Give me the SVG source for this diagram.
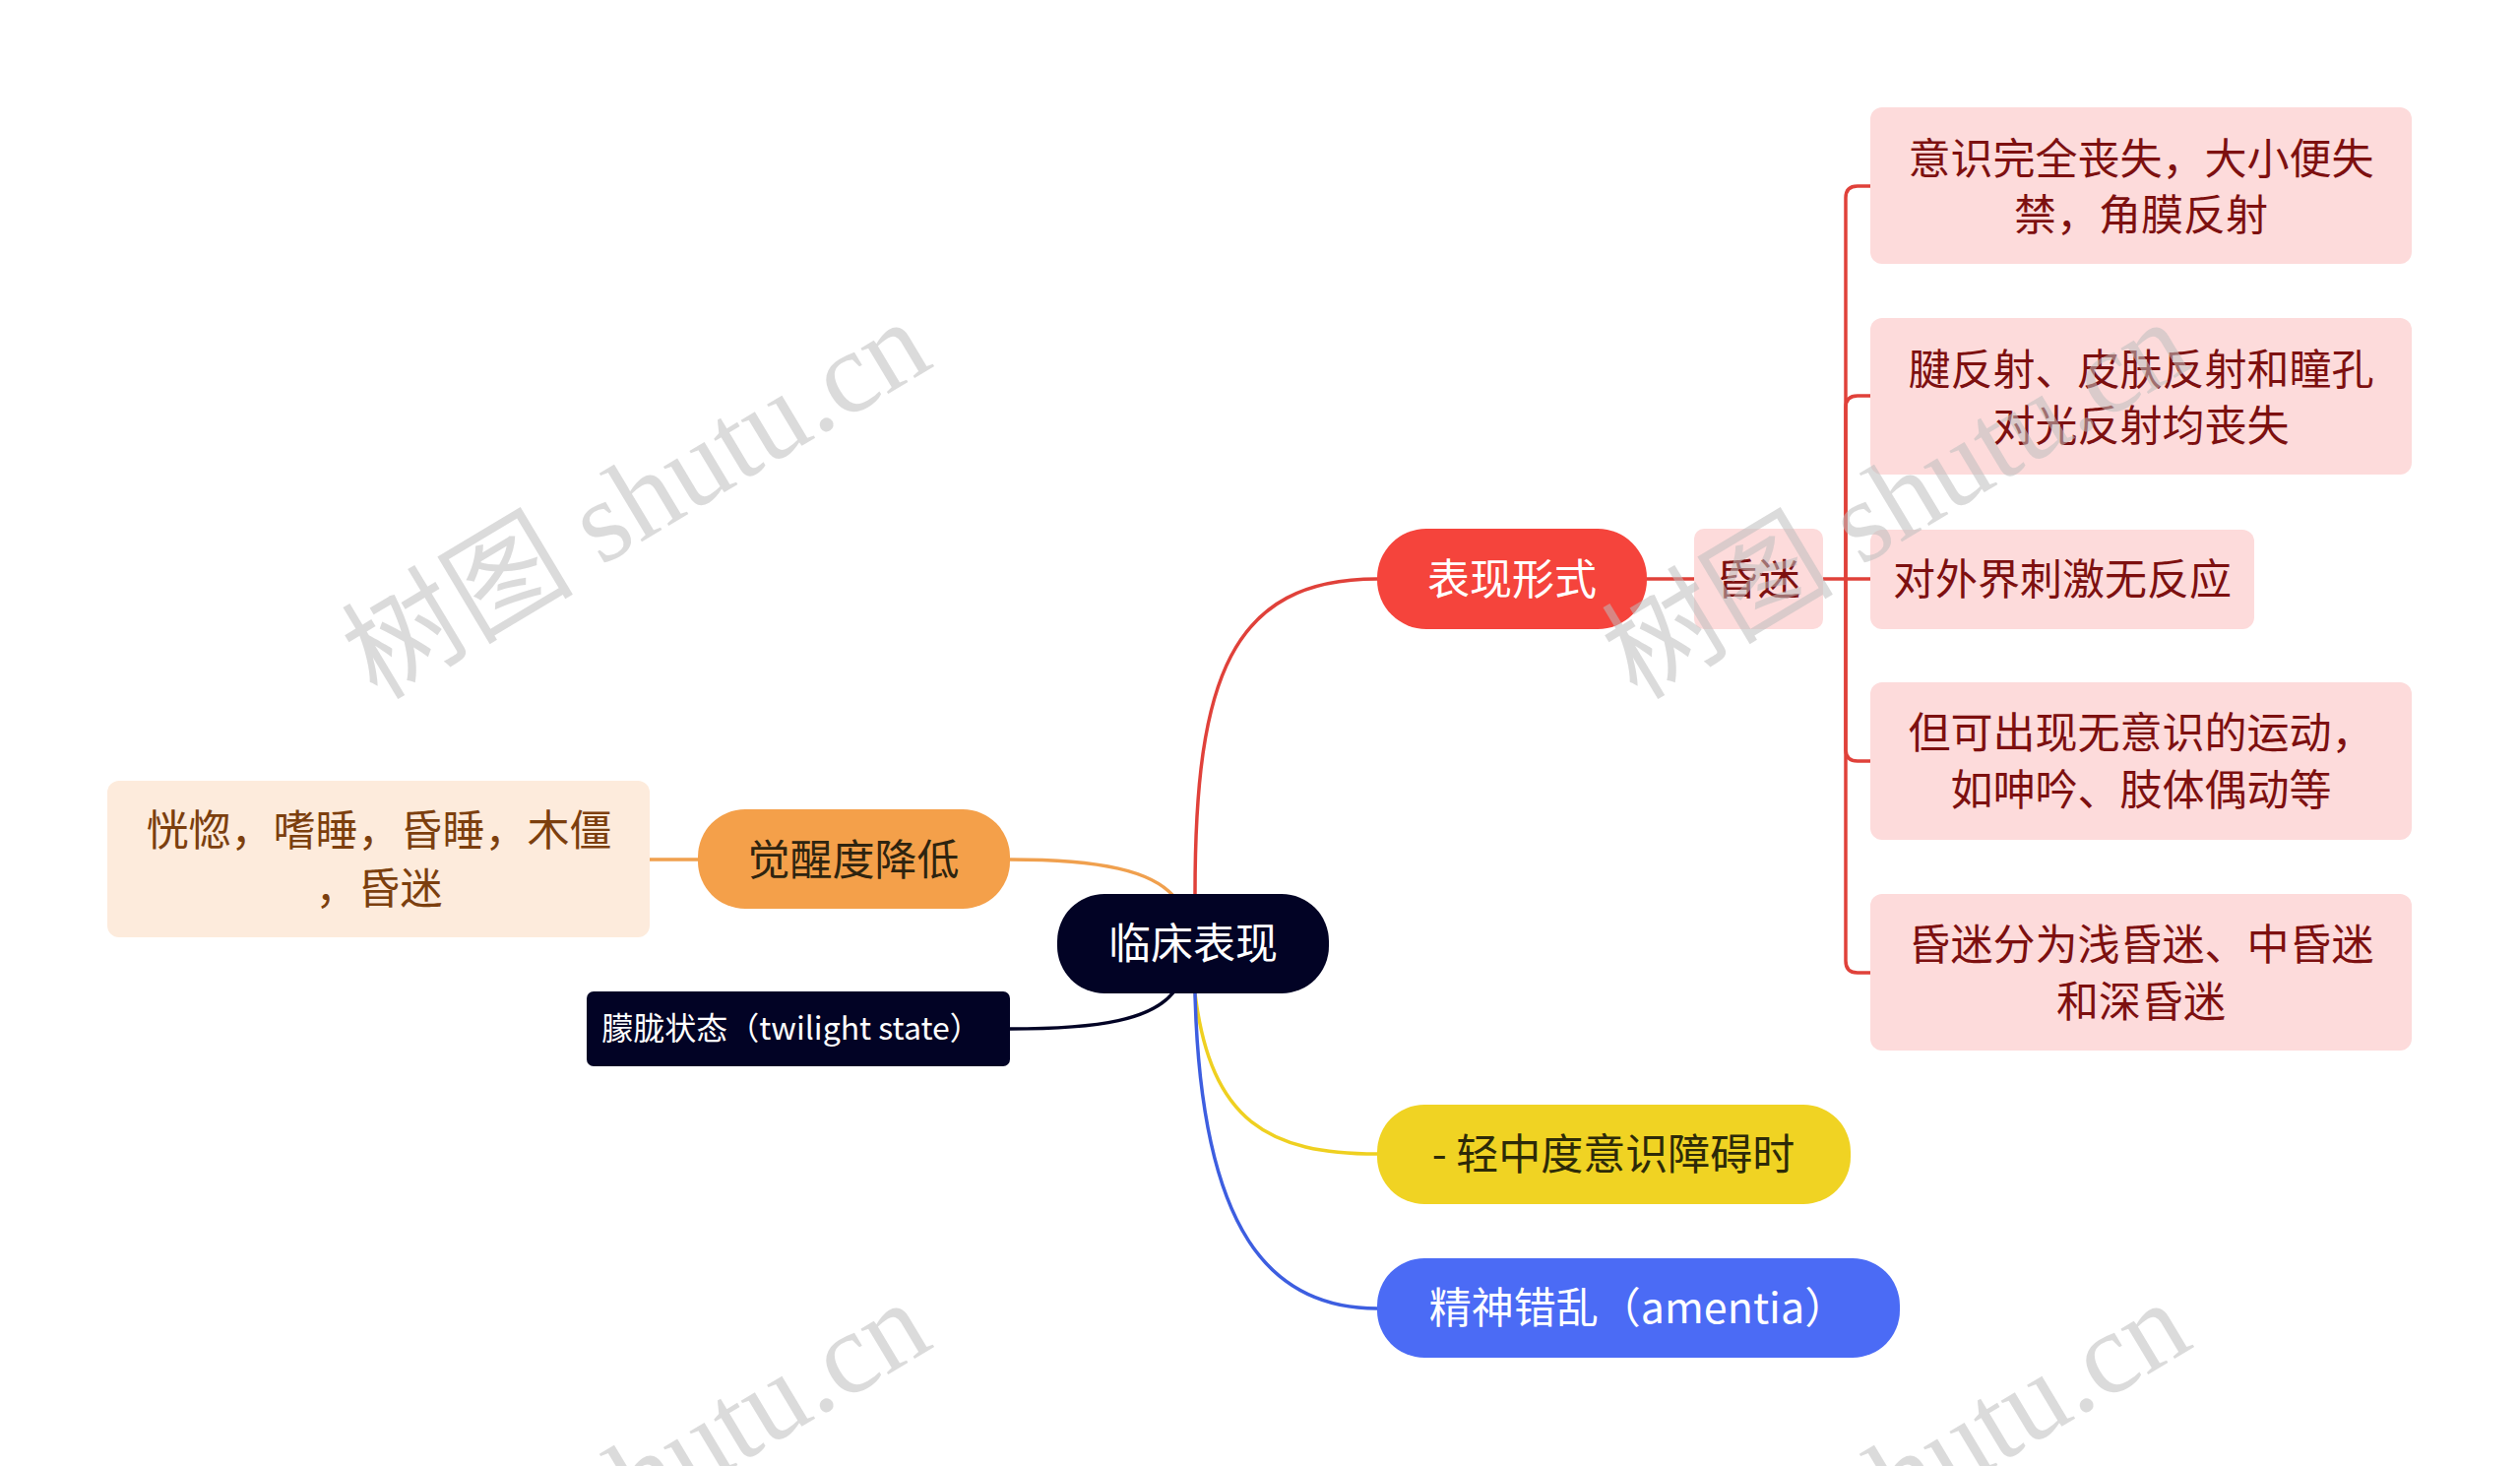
<svg xmlns="http://www.w3.org/2000/svg" width="2560" height="1489" viewBox="0 0 2560 1489">
<style>
text{font-family:"Noto Sans CJK SC","Noto Sans",sans-serif;text-anchor:middle}
.t43{font-size:43px}
.w{fill:#ffffff}
.pk{fill:#fddbdb}
.pkt{fill:#7d1010}
.br{fill:#7c3f0e}
.conn{fill:none;stroke-width:3.5;stroke-linecap:round}
.wm{font-family:"Liberation Serif","Noto Sans CJK SC",serif;font-size:118px;fill:#bdbdbd;fill-opacity:0.55;text-anchor:start}
</style>
<rect width="2560" height="1489" fill="#ffffff"/>
<g id="connectors">
<path class="conn" stroke="#e0413a" d="M1214,908 C1214,690 1250,588 1399,588"/>
<path class="conn" stroke="#f0a04e" d="M1026,873 C1120,873 1170,885 1192,910"/>
<path class="conn" stroke="#020325" d="M1026,1045 C1120,1045 1170,1035 1192,1008"/>
<path class="conn" stroke="#efd020" d="M1214,1009 C1230,1140 1290,1172 1399,1172"/>
<path class="conn" stroke="#3d5ee0" d="M1214,1009 C1220,1250 1290,1329 1399,1329"/>
<path class="conn" stroke="#f0a04e" d="M660,873 H709"/>
<path class="conn" stroke="#e0413a" d="M1673,588 H1721"/>
<path class="conn" stroke="#e0413a" d="M1852,588 H1900"/>
<path class="conn" stroke="#e0413a" d="M1875,588 V201 Q1875,189 1887,189 H1900"/>
<path class="conn" stroke="#e0413a" d="M1875,588 V414 Q1875,402 1887,402 H1900"/>
<path class="conn" stroke="#e0413a" d="M1875,588 V761 Q1875,773 1887,773 H1900"/>
<path class="conn" stroke="#e0413a" d="M1875,588 V976 Q1875,988 1887,988 H1900"/>
</g>
<g id="root">
<rect x="1074" y="908" width="276" height="101" rx="48" fill="#020325"/>
<text class="t43 w" x="1212" y="974">临床表现</text>
</g>
<g id="biaoxian">
<rect x="1399" y="537" width="274" height="102" rx="50" fill="#f5443c"/>
<text class="t43 w" x="1536" y="604">表现形式</text>
</g>
<g id="hunmi">
<rect x="1721" y="537" width="131" height="102" rx="10" class="pk"/>
<text class="t43 pkt" x="1786" y="604">昏迷</text>
</g>
<g id="c1">
<rect x="1900" y="109" width="550" height="159" rx="12" class="pk"/>
<text class="t43 pkt" x="2175" y="177">意识完全丧失，大小便失</text>
<text class="t43 pkt" x="2175" y="234">禁，角膜反射</text>
</g>
<g id="c2">
<rect x="1900" y="323" width="550" height="159" rx="12" class="pk"/>
<text class="t43 pkt" x="2175" y="391">腱反射、皮肤反射和瞳孔</text>
<text class="t43 pkt" x="2175" y="448">对光反射均丧失</text>
</g>
<g id="c3">
<rect x="1900" y="538" width="390" height="101" rx="12" class="pk"/>
<text class="t43 pkt" x="2095" y="604">对外界刺激无反应</text>
</g>
<g id="c4">
<rect x="1900" y="693" width="550" height="160" rx="12" class="pk"/>
<text class="t43 pkt" x="2175" y="760">但可出现无意识的运动，</text>
<text class="t43 pkt" x="2175" y="818">如呻吟、肢体偶动等</text>
</g>
<g id="c5">
<rect x="1900" y="908" width="550" height="159" rx="12" class="pk"/>
<text class="t43 pkt" x="2175" y="975">昏迷分为浅昏迷、中昏迷</text>
<text class="t43 pkt" x="2175" y="1033">和深昏迷</text>
</g>
<g id="juexing">
<rect x="709" y="822" width="317" height="101" rx="48" fill="#f4a04a"/>
<text class="t43" fill="#2e2410" x="867" y="889">觉醒度降低</text>
</g>
<g id="huanghu">
<rect x="109" y="793" width="551" height="159" rx="12" fill="#fdebdc"/>
<text class="t43 br" x="385" y="859">恍惚，嗜睡，昏睡，木僵</text>
<text class="t43 br" x="385" y="918">，昏迷</text>
</g>
<g id="menglong">
<rect x="596" y="1007" width="430" height="76" rx="7" fill="#020325"/>
<text class="w" font-size="32" x="804" y="1056">朦胧状态（twilight state）</text>
</g>
<g id="qingzhong">
<rect x="1399" y="1122" width="481" height="101" rx="48" fill="#f0d323"/>
<text class="t43" fill="#2d2a08" x="1639" y="1188">- 轻中度意识障碍时</text>
</g>
<g id="jingshen">
<rect x="1399" y="1278" width="531" height="101" rx="48" fill="#4b6bf5"/>
<text class="t43 w" x="1664" y="1344">精神错乱（amentia）</text>
</g>
<g id="watermarks">
<text class="wm" transform="translate(383,712) rotate(-31)">树图 shutu.cn</text>
<text class="wm" transform="translate(1663,712) rotate(-31)">树图 shutu.cn</text>
<text class="wm" transform="translate(383,1708) rotate(-31)">树图 shutu.cn</text>
<text class="wm" transform="translate(1663,1708) rotate(-31)">树图 shutu.cn</text>
</g>
</svg>
